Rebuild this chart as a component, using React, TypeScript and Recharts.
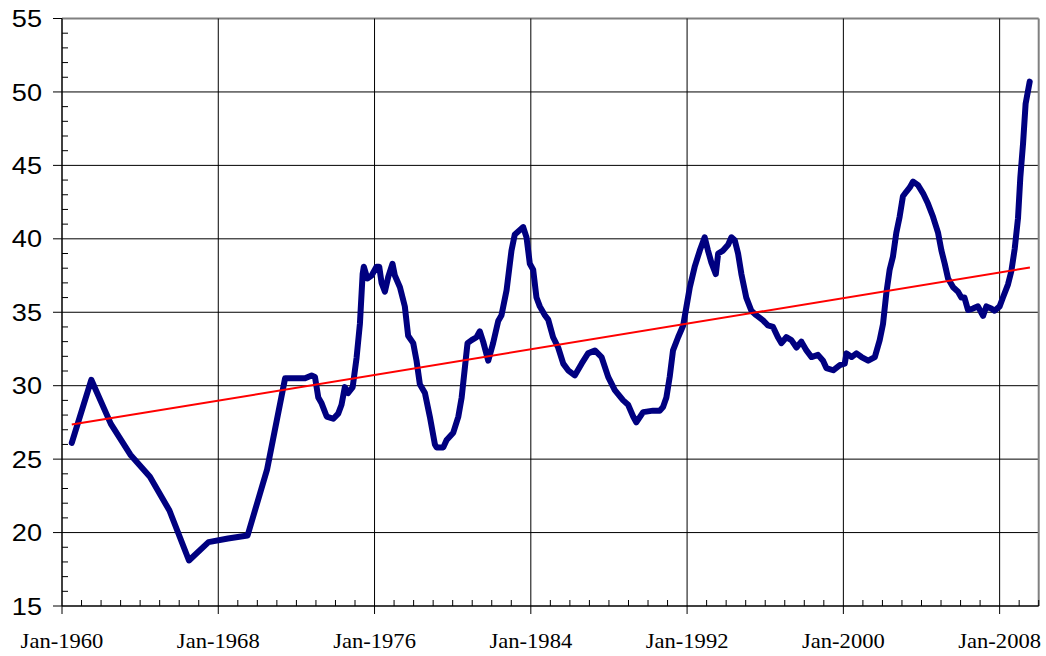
import { LineChart, Line, XAxis, YAxis, ReferenceLine } from 'recharts';

// annual points up to 1971, then roughly monthly readings
const years = [
  1960.5, 1961.5, 1962.5, 1963.5, 1964.5, 1965.5, 1966.5, 1967.5, 1968.5, 1969.5, 1970.5, 1971.42,
  1972.0, 1972.44, 1972.78, 1972.95, 1973.12, 1973.29, 1973.55, 1973.89, 1974.14, 1974.31, 1974.48,
  1974.65, 1974.88, 1975.08, 1975.25, 1975.39, 1975.45, 1975.63, 1975.85, 1976.1, 1976.24, 1976.36,
  1976.53, 1976.7, 1976.92, 1977.04, 1977.3, 1977.55, 1977.72, 1977.98, 1978.15, 1978.32, 1978.58,
  1978.83, 1979.09, 1979.18, 1979.52, 1979.69, 1980.03, 1980.29, 1980.46, 1980.63, 1980.76, 1980.97,
  1981.22, 1981.39, 1981.56, 1981.82, 1982.07, 1982.33, 1982.5, 1982.76, 1983.01, 1983.18, 1983.44,
  1983.61, 1983.78, 1983.95, 1984.12, 1984.29, 1984.46, 1984.72, 1984.89, 1985.14, 1985.4, 1985.66,
  1985.91, 1986.25, 1986.6, 1986.93, 1987.28, 1987.62, 1987.96, 1988.3, 1988.73, 1988.98, 1989.24,
  1989.4, 1989.75, 1990.26, 1990.6, 1990.77, 1990.94, 1991.11, 1991.28, 1991.54, 1991.8, 1991.97,
  1992.14, 1992.39, 1992.65, 1992.9, 1993.07, 1993.24, 1993.47, 1993.59, 1993.84, 1994.1, 1994.27,
  1994.44, 1994.61, 1994.78, 1995.03, 1995.29, 1995.54, 1995.89, 1996.14, 1996.4, 1996.65, 1996.83,
  1997.08, 1997.34, 1997.6, 1997.85, 1998.11, 1998.37, 1998.7, 1998.96, 1999.13, 1999.48, 1999.82,
  2000.07, 2000.16, 2000.42, 2000.67, 2000.93, 2001.27, 2001.61, 2001.86, 2002.03, 2002.2, 2002.37,
  2002.54, 2002.71, 2002.88, 2003.05, 2003.22, 2003.4, 2003.57, 2003.82, 2004.08, 2004.33, 2004.59,
  2004.85, 2005.02, 2005.19, 2005.36, 2005.62, 2005.87, 2006.04, 2006.2, 2006.38, 2006.63, 2006.89,
  2007.15, 2007.32, 2007.57, 2007.74, 2008.0, 2008.17, 2008.43, 2008.6, 2008.77, 2008.94, 2009.06,
  2009.2, 2009.33, 2009.54,
];

const values = [
  26.1, 30.4, 27.4, 25.3, 23.8, 21.5, 18.1, 19.35, 19.6, 19.8, 24.3, 30.5,
  30.5, 30.5, 30.7, 30.6, 29.2, 28.8, 27.9, 27.75, 28.1, 28.7, 29.9,
  29.5, 29.9, 31.9, 34.2, 37.6, 38.1, 37.3, 37.5, 38.1, 38.1, 37.0,
  36.4, 37.4, 38.3, 37.5, 36.7, 35.4, 33.4, 32.9, 31.7, 30.1, 29.5,
  27.9, 26.0, 25.8, 25.8, 26.3, 26.8, 27.9, 29.2, 31.3, 32.9, 33.1,
  33.3, 33.7, 33.0, 31.7, 32.9, 34.4, 34.8, 36.5, 39.2, 40.3, 40.6,
  40.8, 40.1, 38.3, 37.9, 36.0, 35.4, 34.8, 34.5, 33.3, 32.6, 31.5,
  31.05, 30.7, 31.5, 32.2, 32.4, 31.95, 30.6, 29.7, 29.0, 28.7, 27.9,
  27.5, 28.2, 28.3, 28.3, 28.55, 29.2, 30.6, 32.4, 33.3, 34.1, 35.4,
  36.7, 38.1, 39.2, 40.1, 39.2, 38.4, 37.6, 39.0, 39.2, 39.6, 40.1,
  39.9, 39.0, 37.6, 36.0, 35.1, 34.8, 34.45, 34.1, 34.0, 33.3, 32.9,
  33.3, 33.1, 32.6, 33.0, 32.4, 31.95, 32.1, 31.7, 31.2, 31.05, 31.4,
  31.5, 32.2, 31.95, 32.2, 31.95, 31.7, 31.95, 33.1, 34.2, 36.3, 37.9,
  38.8, 40.4, 41.5, 42.9, 43.2, 43.5, 43.9, 43.65, 43.1, 42.4, 41.5,
  40.4, 39.2, 38.3, 37.3, 36.7, 36.4, 36.0, 36.0, 35.15, 35.25, 35.4,
  34.75, 35.4, 35.25, 35.1, 35.4, 36.0, 36.9, 37.8, 39.3, 41.4, 44.2,
  46.5, 49.2, 50.7,
];

const trendYears = [1960.5, 2009.55];
const trendValues = [27.35, 38.05];

const xMajorTicks = [1960, 1968, 1976, 1984, 1992, 2000, 2008];
const yMajorTicks = [15, 20, 25, 30, 35, 40, 45, 50, 55];

const series = years.map((t, i) => ({ t, v: values[i] }));
const trend = trendYears.map((t, i) => ({ t, v: trendValues[i] }));

const xTicks = Array.from({ length: 51 }, (_, i) => 1960 + i);
const yTicks = Array.from({ length: 41 }, (_, i) => 15 + i);

const XTick = ({ x, y, payload }: any) => {
  const yr = payload.value;
  if (xMajorTicks.includes(yr)) {
    return (
      <g>
        <line x1={x} x2={x} y1={y} y2={y + 8} stroke="#000" />
        <text
          transform={`translate(${x},${y + 42}) scale(1.13,1)`}
          textAnchor="middle"
          fontFamily="'Liberation Serif', 'Times New Roman', serif"
          fontSize={20}
          fill="#000"
        >
          {`Jan-${yr}`}
        </text>
      </g>
    );
  }
  return <line x1={x} x2={x} y1={y} y2={y - 6} stroke="#000" />;
};

const YTick = ({ x, y, payload }: any) => {
  const v = payload.value;
  if (yMajorTicks.includes(v)) {
    return (
      <g>
        <line x1={x - 9} x2={x} y1={y} y2={y} stroke="#000" />
        <text
          transform={`translate(${x - 20},${y}) scale(1.13,1)`}
          textAnchor="end"
          dy="0.36em"
          fontFamily="'Liberation Sans', Arial, sans-serif"
          fontSize={24}
          fill="#000"
        >
          {v}
        </text>
      </g>
    );
  }
  return <line x1={x} x2={x + 6} y1={y} y2={y} stroke="#000" />;
};

export default function App() {
  return (
    <div style={{ position: 'absolute', left: 0, top: 0, background: '#fff' }}>
      <LineChart width={1046} height={656} margin={{ top: 18.5, right: 7.3, left: 12, bottom: 10 }}>
        <XAxis
          type="number"
          dataKey="t"
          domain={[1960, 2010]}
          ticks={xTicks}
          interval={0}
          tick={<XTick />}
          tickLine={false}
          tickSize={0}
          tickMargin={0}
          height={40}
          axisLine={{ stroke: '#000', strokeWidth: 1.5 }}
          allowDataOverflow
        />
        <YAxis
          type="number"
          dataKey="v"
          domain={[15, 55]}
          ticks={yTicks}
          interval={0}
          tick={<YTick />}
          tickLine={false}
          tickSize={0}
          tickMargin={0}
          width={50}
          axisLine={{ stroke: '#000', strokeWidth: 1.5 }}
          allowDataOverflow
        />
        {yMajorTicks.slice(1, -1).map((v) => (
          <ReferenceLine key={`h${v}`} y={v} stroke="#000" strokeWidth={1} />
        ))}
        <ReferenceLine y={55} stroke="#808080" strokeWidth={2} />
        {xMajorTicks.slice(1).map((t) => (
          <ReferenceLine key={`v${t}`} x={t} stroke="#000" strokeWidth={1} />
        ))}
        <ReferenceLine x={2010} stroke="#808080" strokeWidth={2} />
        <Line
          data={series}
          dataKey="v"
          type="linear"
          stroke="#000080"
          strokeWidth={6}
          strokeLinejoin="round"
          strokeLinecap="round"
          dot={false}
          activeDot={false}
          isAnimationActive={false}
        />
        <Line
          data={trend}
          dataKey="v"
          type="linear"
          stroke="#ff0000"
          strokeWidth={2}
          dot={false}
          activeDot={false}
          isAnimationActive={false}
        />
      </LineChart>
    </div>
  );
}
